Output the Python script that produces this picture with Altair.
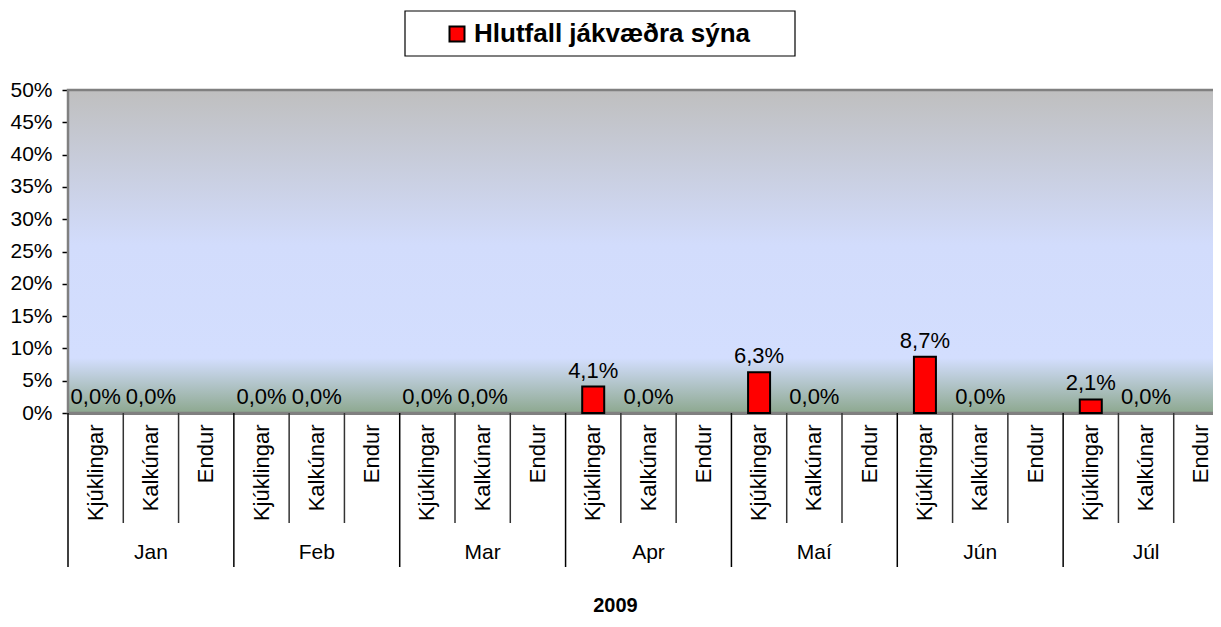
import altair as alt
import pandas as pd

months = ["Jan", "Feb", "Mar", "Apr", "Maí", "Jún", "Júl"]
subs = ["Kjúklingar", "Kalkúnar", "Endur"]
# percent positive samples per month
kjuklingar = [0.0, 0.0, 0.0, 4.1, 6.3, 8.7, 2.1]
kalkunar = [0.0, 0.0, 0.0, 0.0, 0.0, 0.0, 0.0]
endur = [None, None, None, None, None, None, None]
series_name = "Hlutfall jákvæðra sýna"
year_label = "2009"
y_ticks = [0.0, 0.05, 0.10, 0.15, 0.20, 0.25, 0.30, 0.35, 0.40, 0.45, 0.50]

rows = []
for i, m in enumerate(months):
    for s, vals in zip(subs, [kjuklingar, kalkunar, endur]):
        v = vals[i]
        rows.append({
            "key": f"{m}|{s}",
            "month": m,
            "sub": s,
            "value": None if v is None else v / 100.0,
            "label": None if v is None else f"{v:.1f}%".replace(".", ","),
            "series": series_name,
        })
df = pd.DataFrame(rows)
keys = list(df["key"])

W = 1161
H = 323
FONT = "Liberation Sans"

xscale = alt.Scale(domain=keys, paddingInner=0, paddingOuter=0)
yscale = alt.Scale(domain=[0, 0.5], nice=False)

yaxis = alt.Axis(values=y_ticks, format=".0%", grid=False, labelOverlap=False,
                 domainColor="black", domainWidth=1.5, tickColor="black",
                 tickSize=6, tickWidth=1.5, labelPadding=10, labelFontSize=21,
                 labelFont=FONT, labelColor="black", title=None)
xaxis = alt.Axis(orient="bottom", ticks=False, domainColor="black", domainWidth=2,
                 labelAngle=270, labelAlign="right", labelBaseline="middle",
                 labelPadding=11, labelFontSize=22, labelFont=FONT, labelColor="black",
                 labelExpr="split(datum.label, '|')[1]", labelOverlap=False,
                 title=year_label, titleFontSize=20, titleFontWeight="bold",
                 titleFont=FONT, titleColor="black", titleY=192,
                 titleBaseline="middle", titleX=547)

base = alt.Chart(df)

bg = alt.Chart(alt.Data(values=[{"a": 1}])).mark_rect(
    fill=alt.Gradient(
        gradient="linear", x1=0, y1=0, x2=0, y2=1,
        stops=[
            alt.GradientStop(offset=0, color="#bfbfbf"),
            alt.GradientStop(offset=0.48, color="#d2dcfc"),
            alt.GradientStop(offset=0.83, color="#d3defe"),
            alt.GradientStop(offset=1, color="#8da88f"),
        ],
    ),
    stroke="#808080", strokeWidth=2.5,
).encode(x=alt.value(0), x2=alt.value(W + 20), y=alt.value(0), y2=alt.value(H))

# frame drawn behind the legend entry
legend_frame = alt.Chart(alt.Data(values=[{"a": 1}])).mark_rect(
    fill="white", stroke="black", strokeWidth=1.2,
).encode(x=alt.value(337), x2=alt.value(727), y=alt.value(-79), y2=alt.value(-34))

bars = base.transform_filter("datum.value > 0").mark_bar(
    size=22, stroke="black", strokeWidth=2).encode(
    x=alt.X("key:N", scale=xscale, sort=keys, axis=xaxis),
    y=alt.Y("value:Q", scale=yscale, axis=yaxis),
    color=alt.Color("series:N",
                    scale=alt.Scale(domain=[series_name], range=["#ff0000"]),
                    legend=alt.Legend(orient="none", legendX=337, legendY=-79, title=None,
                                      symbolType="square", symbolSize=225,
                                      symbolStrokeColor="black", symbolStrokeWidth=2,
                                      labelFontSize=26, labelFontWeight="bold",
                                      labelFont=FONT, labelColor="black", labelLimit=700,
                                      padding=10, symbolOffset=29, labelOffset=4)),
)

labels = base.mark_text(fontSize=22, font=FONT, color="black", baseline="alphabetic",
                        dy=-9).encode(
    x=alt.X("key:N", scale=xscale, sort=keys, axis=xaxis),
    y=alt.Y("value:Q", scale=yscale, axis=yaxis),
    text="label:N",
)

short_rules = base.transform_filter("datum.sub != 'Kjúklingar'").mark_rule(
    color="#333333", strokeWidth=1.5).encode(
    x=alt.X("key:N", scale=xscale, sort=keys, bandPosition=0, axis=xaxis),
    y=alt.value(H), y2=alt.value(H + 110),
)

long_rules = base.transform_filter("datum.sub == 'Kjúklingar'").mark_rule(
    color="black", strokeWidth=1.5).encode(
    x=alt.X("key:N", scale=xscale, sort=keys, bandPosition=0, axis=xaxis),
    y=alt.value(H), y2=alt.value(H + 154),
)

month_text = base.transform_filter("datum.sub == 'Kalkúnar'").mark_text(
    fontSize=21, font=FONT, color="black", baseline="middle").encode(
    x=alt.X("key:N", scale=xscale, sort=keys, axis=xaxis),
    y=alt.value(H + 140),
    text="month:N",
)

chart = alt.layer(bg, legend_frame, bars, labels, short_rules, long_rules, month_text).properties(
    width=W, height=H,
    autosize=alt.AutoSizeParams(type="none"),
    padding={"left": 60, "top": 82, "right": -16, "bottom": 206},
).configure_view(stroke=None).configure(background="white")

chart.save("out.html", embed_options={"renderer": "svg", "actions": False})
